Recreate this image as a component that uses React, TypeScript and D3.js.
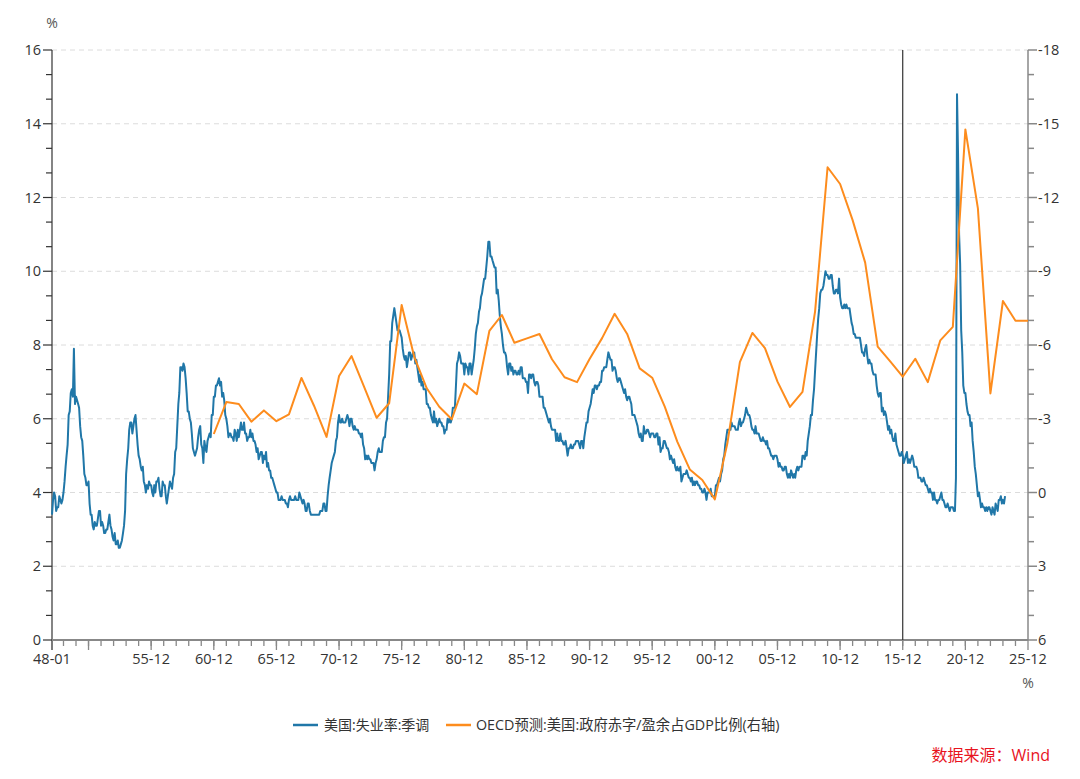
import React, { useEffect } from "react";
import * as d3 from "d3";

// Monthly US unemployment rate (SA), from 1948-01
const unemploymentStartYear = 1948;
const unemploymentMonthly: number[] = [
  3.4, 3.8, 4.0, 3.9, 3.5, 3.6, 3.6, 3.9, 3.8, 3.7, 3.8, 4.0,
  4.3, 4.7, 5.0, 5.3, 6.1, 6.2, 6.7, 6.8, 6.6, 7.9, 6.4, 6.6,
  6.5, 6.4, 6.3, 5.8, 5.5, 5.4, 5.0, 4.5, 4.4, 4.2, 4.2, 4.3,
  3.7, 3.4, 3.4, 3.1, 3.0, 3.2, 3.1, 3.1, 3.3, 3.5, 3.5, 3.1,
  3.2, 3.1, 2.9, 2.9, 3.0, 3.0, 3.2, 3.4, 3.1, 3.0, 2.8, 2.7,
  2.9, 2.6, 2.6, 2.7, 2.5, 2.5, 2.6, 2.7, 2.9, 3.1, 3.5, 4.5,
  4.9, 5.2, 5.7, 5.9, 5.9, 5.6, 5.8, 6.0, 6.1, 5.7, 5.3, 5.0,
  4.9, 4.7, 4.6, 4.7, 4.3, 4.2, 4.0, 4.2, 4.1, 4.3, 4.2, 4.2,
  4.0, 3.9, 4.2, 4.0, 4.3, 4.3, 4.4, 4.1, 3.9, 3.9, 4.3, 4.2,
  4.2, 3.9, 3.7, 3.9, 4.1, 4.3, 4.2, 4.1, 4.4, 4.5, 5.1, 5.2,
  5.8, 6.4, 6.7, 7.4, 7.4, 7.3, 7.5, 7.4, 7.1, 6.7, 6.2, 6.2,
  6.0, 5.9, 5.6, 5.2, 5.1, 5.0, 5.1, 5.2, 5.5, 5.7, 5.8, 5.3,
  5.2, 4.8, 5.4, 5.2, 5.1, 5.4, 5.5, 5.6, 5.5, 6.1, 6.1, 6.6,
  6.6, 6.9, 6.9, 7.0, 7.1, 6.9, 7.0, 6.6, 6.7, 6.5, 6.1, 6.0,
  5.8, 5.5, 5.6, 5.6, 5.5, 5.5, 5.4, 5.7, 5.6, 5.4, 5.7, 5.5,
  5.7, 5.9, 5.7, 5.7, 5.9, 5.6, 5.6, 5.4, 5.5, 5.5, 5.7, 5.5,
  5.6, 5.4, 5.4, 5.3, 5.1, 5.2, 4.9, 5.0, 5.1, 5.1, 4.8, 5.0,
  4.9, 5.1, 4.7, 4.8, 4.6, 4.6, 4.4, 4.4, 4.3, 4.2, 4.1, 4.0,
  4.0, 3.8, 3.8, 3.8, 3.9, 3.8, 3.8, 3.8, 3.7, 3.7, 3.6, 3.8,
  3.9, 3.8, 3.8, 3.8, 3.8, 3.9, 3.8, 3.8, 3.8, 4.0, 3.9, 3.8,
  3.7, 3.8, 3.7, 3.5, 3.5, 3.7, 3.7, 3.5, 3.4, 3.4, 3.4, 3.4,
  3.4, 3.4, 3.4, 3.4, 3.4, 3.5, 3.5, 3.5, 3.7, 3.7, 3.5, 3.5,
  3.9, 4.2, 4.4, 4.6, 4.8, 4.9, 5.0, 5.1, 5.4, 5.5, 5.9, 6.1,
  5.9, 5.9, 6.0, 5.9, 5.9, 5.9, 6.0, 6.1, 6.0, 5.8, 6.0, 6.0,
  5.8, 5.7, 5.8, 5.7, 5.7, 5.7, 5.6, 5.6, 5.5, 5.6, 5.3, 5.2,
  4.9, 5.0, 4.9, 5.0, 4.9, 4.9, 4.8, 4.8, 4.8, 4.6, 4.8, 4.9,
  5.1, 5.2, 5.1, 5.1, 5.1, 5.4, 5.5, 5.5, 5.9, 6.0, 6.6, 7.2,
  8.1, 8.1, 8.6, 8.8, 9.0, 8.8, 8.6, 8.4, 8.4, 8.4, 8.3, 8.2,
  7.9, 7.7, 7.6, 7.7, 7.4, 7.6, 7.8, 7.8, 7.6, 7.7, 7.8, 7.8,
  7.5, 7.6, 7.4, 7.2, 7.0, 7.2, 6.9, 7.0, 6.8, 6.8, 6.8, 6.4,
  6.4, 6.3, 6.3, 6.1, 6.0, 5.9, 6.2, 5.9, 6.0, 5.8, 5.9, 6.0,
  5.9, 5.9, 5.8, 5.8, 5.6, 5.7, 5.7, 6.0, 5.9, 6.0, 5.9, 6.0,
  6.3, 6.3, 6.3, 6.9, 7.5, 7.6, 7.8, 7.7, 7.5, 7.5, 7.5, 7.2,
  7.5, 7.4, 7.4, 7.2, 7.5, 7.5, 7.2, 7.4, 7.6, 7.9, 8.3, 8.5,
  8.6, 8.9, 9.0, 9.3, 9.4, 9.6, 9.8, 9.8, 10.1, 10.4, 10.8, 10.8,
  10.4, 10.4, 10.3, 10.2, 10.1, 10.1, 9.4, 9.5, 9.2, 8.8, 8.5, 8.3,
  8.0, 7.8, 7.8, 7.7, 7.4, 7.2, 7.5, 7.5, 7.3, 7.4, 7.2, 7.3,
  7.3, 7.2, 7.2, 7.3, 7.2, 7.4, 7.4, 7.1, 7.1, 7.1, 7.0, 7.0,
  6.7, 7.2, 7.2, 7.1, 7.2, 7.2, 7.0, 6.9, 7.0, 7.0, 6.9, 6.6,
  6.6, 6.6, 6.6, 6.3, 6.3, 6.2, 6.1, 6.0, 5.9, 6.0, 5.8, 5.7,
  5.7, 5.7, 5.7, 5.4, 5.6, 5.4, 5.4, 5.6, 5.4, 5.4, 5.3, 5.3,
  5.4, 5.2, 5.0, 5.2, 5.2, 5.3, 5.2, 5.2, 5.3, 5.3, 5.4, 5.4,
  5.4, 5.3, 5.2, 5.4, 5.4, 5.2, 5.5, 5.7, 5.9, 5.9, 6.2, 6.3,
  6.4, 6.6, 6.8, 6.7, 6.9, 6.9, 6.8, 6.9, 6.9, 7.0, 7.0, 7.3,
  7.3, 7.4, 7.4, 7.4, 7.6, 7.8, 7.7, 7.6, 7.6, 7.3, 7.4, 7.4,
  7.3, 7.1, 7.0, 7.1, 7.1, 7.0, 6.9, 6.8, 6.7, 6.8, 6.6, 6.5,
  6.6, 6.6, 6.5, 6.4, 6.1, 6.1, 6.1, 6.0, 5.9, 5.8, 5.6, 5.5,
  5.6, 5.4, 5.4, 5.8, 5.6, 5.6, 5.7, 5.7, 5.6, 5.5, 5.6, 5.6,
  5.6, 5.5, 5.5, 5.6, 5.6, 5.3, 5.5, 5.1, 5.2, 5.2, 5.4, 5.4,
  5.3, 5.2, 5.2, 5.1, 4.9, 5.0, 4.9, 4.8, 4.9, 4.7, 4.6, 4.7,
  4.6, 4.6, 4.7, 4.3, 4.4, 4.5, 4.5, 4.5, 4.6, 4.5, 4.4, 4.4,
  4.3, 4.4, 4.2, 4.3, 4.2, 4.3, 4.3, 4.2, 4.2, 4.1, 4.1, 4.0,
  4.0, 4.1, 4.0, 3.8, 4.0, 4.0, 4.0, 4.1, 3.9, 3.9, 3.9, 3.9,
  4.2, 4.2, 4.3, 4.4, 4.3, 4.5, 4.6, 4.9, 5.0, 5.3, 5.5, 5.7,
  5.7, 5.7, 5.7, 5.9, 5.8, 5.8, 5.8, 5.7, 5.7, 5.7, 5.9, 6.0,
  5.8, 5.9, 5.9, 6.0, 6.1, 6.3, 6.2, 6.1, 6.1, 6.0, 5.8, 5.7,
  5.7, 5.6, 5.8, 5.6, 5.6, 5.6, 5.5, 5.4, 5.4, 5.5, 5.4, 5.4,
  5.3, 5.4, 5.2, 5.2, 5.1, 5.0, 5.0, 4.9, 5.0, 5.0, 5.0, 4.9,
  4.7, 4.8, 4.7, 4.7, 4.6, 4.6, 4.7, 4.7, 4.5, 4.4, 4.5, 4.4,
  4.6, 4.5, 4.4, 4.5, 4.4, 4.6, 4.7, 4.6, 4.7, 4.7, 4.7, 5.0,
  5.0, 4.9, 5.1, 5.0, 5.4, 5.6, 5.8, 6.1, 6.1, 6.5, 6.8, 7.3,
  7.8, 8.3, 8.7, 9.0, 9.4, 9.5, 9.5, 9.6, 9.8, 10.0, 9.9, 9.9,
  9.8, 9.8, 9.9, 9.9, 9.6, 9.4, 9.4, 9.5, 9.5, 9.4, 9.8, 9.3,
  9.1, 9.0, 9.0, 9.1, 9.0, 9.1, 9.0, 9.0, 9.0, 8.8, 8.6, 8.5,
  8.3, 8.3, 8.2, 8.2, 8.2, 8.2, 8.2, 8.0, 7.8, 7.8, 7.7, 7.9,
  8.0, 7.7, 7.5, 7.6, 7.5, 7.5, 7.3, 7.2, 7.2, 7.2, 6.9, 6.7,
  6.6, 6.7, 6.7, 6.2, 6.3, 6.1, 6.2, 6.1, 5.9, 5.7, 5.8, 5.6,
  5.7, 5.5, 5.4, 5.4, 5.6, 5.3, 5.2, 5.1, 5.0, 5.0, 5.1, 5.0,
  4.8, 4.9, 5.0, 5.1, 4.8, 4.9, 4.8, 4.9, 5.0, 4.9, 4.7, 4.7,
  4.7, 4.6, 4.4, 4.4, 4.4, 4.3, 4.3, 4.4, 4.3, 4.2, 4.2, 4.1,
  4.0, 4.1, 4.0, 4.0, 3.8, 4.0, 3.8, 3.8, 3.7, 3.8, 3.8, 3.9,
  4.0, 3.8, 3.8, 3.7, 3.6, 3.6, 3.7, 3.6, 3.5, 3.6, 3.6, 3.6,
  3.5, 3.5, 4.4, 14.8, 13.2, 11.0, 10.2, 8.4, 7.8, 6.9, 6.7, 6.7,
  6.4, 6.2, 6.1, 6.1, 5.8, 5.9, 5.4, 5.1, 4.7, 4.5, 4.2, 3.9,
  4.0, 3.8, 3.6, 3.7, 3.6, 3.6, 3.5, 3.6, 3.5, 3.6, 3.6, 3.5,
  3.4, 3.6, 3.5, 3.4, 3.7, 3.6, 3.5, 3.8, 3.8, 3.9, 3.7, 3.8,
  3.7, 3.9,
];

// OECD: US general government deficit/surplus (% of GDP), annual, plotted at December
const deficitYears: number[] = [
  1960, 1961, 1962, 1963, 1964, 1965, 1966, 1967, 1968, 1969,
  1970, 1971, 1972, 1973, 1974, 1975, 1976, 1977, 1978, 1979,
  1980, 1981, 1982, 1983, 1984, 1985, 1986, 1987, 1988, 1989,
  1990, 1991, 1992, 1993, 1994, 1995, 1996, 1997, 1998, 1999,
  2000, 2001, 2002, 2003, 2004, 2005, 2006, 2007, 2008, 2009,
  2010, 2011, 2012, 2013, 2014, 2015, 2016, 2017, 2018, 2019,
  2020, 2021, 2022, 2023, 2024, 2025,
];
const deficitValues: number[] = [
  -2.38, -3.68, -3.6, -2.88, -3.34, -2.9, -3.18, -4.66, -3.53, -2.26,
  -4.74, -5.55, -4.3, -3.04, -3.63, -7.63, -5.52, -4.24, -3.49, -2.98,
  -4.43, -4.0, -6.57, -7.22, -6.09, -6.27, -6.45, -5.42, -4.69, -4.49,
  -5.43, -6.28, -7.27, -6.45, -5.05, -4.67, -3.49, -2.07, -0.94, -0.51,
  0.28, -2.0, -5.3, -6.49, -5.87, -4.51, -3.48, -4.09, -7.36, -13.23,
  -12.55, -11.08, -9.35, -5.93, -5.33, -4.71, -5.44, -4.49, -6.19, -6.74,
  -14.77, -11.56, -4.03, -7.79, -6.99, -6.99,
];

const leftTicks: number[] = [0, 2, 4, 6, 8, 10, 12, 14, 16];
const rightTicks: number[] = [-18, -15, -12, -9, -6, -3, 0, 3, 6];
const xLabelYears: number[] = [1955, 1960, 1965, 1970, 1975, 1980, 1985, 1990, 1995, 2000, 2005, 2010, 2015, 2020, 2025];
const markerYear = 2015;

const seriesNames = ["美国:失业率:季调", "OECD预测:美国:政府赤字/盈余占GDP比例(右轴)"];
const sourceText = "数据来源：Wind";

const W = 1080;
const H = 779;
const M = { left: 52, right: 1028, top: 50, bottom: 640 };
const BLUE = "#2077a8";
const ORANGE = "#fd8c1d";
const FONT = "'Open Sans','Noto Sans CJK SC','Noto Sans',sans-serif";

export default function App() {
  useEffect(() => {
    document.body.style.margin = "0";
  }, []);

  const x = d3
    .scaleTime()
    .domain([new Date(1948, 0, 1), new Date(2025, 11, 1)])
    .range([M.left, M.right]);
  const yL = d3.scaleLinear().domain([0, 16]).range([M.bottom, M.top]);
  const yR = d3.scaleLinear().domain([6, -18]).range([M.bottom, M.top]);

  const blueData = unemploymentMonthly.map((v, i) => ({
    d: new Date(unemploymentStartYear, i, 1),
    v,
  }));
  const orangeData = deficitYears.map((yr, i) => ({
    d: new Date(yr, 11, 1),
    v: deficitValues[i],
  }));

  const blueLine = d3
    .line<{ d: Date; v: number }>()
    .x((p) => x(p.d))
    .y((p) => yL(p.v))(blueData) as string;
  const orangeLine = d3
    .line<{ d: Date; v: number }>()
    .x((p) => x(p.d))
    .y((p) => yR(p.v))(orangeData) as string;

  const minorRight = d3.range(-18, 6.01, 1).filter((v) => !rightTicks.includes(v));

  const minorYears = d3.range(1948, 2025);
  const majorYears = [1950, ...xLabelYears];

  return (
    <svg width={W} height={H} style={{ display: "block", background: "#fff" }} fontFamily={FONT}>
      {leftTicks
        .filter((t) => t !== 0)
        .map((t) => (
          <line
            key={"g" + t}
            x1={M.left}
            x2={M.right}
            y1={yL(t)}
            y2={yL(t)}
            stroke="#dcdcdc"
            strokeDasharray="5,4"
            strokeWidth={1}
          />
        ))}

      {/* left axis */}
      <line x1={M.left} x2={M.left} y1={M.top} y2={M.bottom} stroke="#333" strokeWidth={1.2} />
      {leftTicks.map((t) => (
        <g key={"l" + t}>
          <line x1={M.left - 9} x2={M.left} y1={yL(t)} y2={yL(t)} stroke="#333" strokeWidth={1.2} />
          <text x={M.left - 11} y={yL(t)} dy="0.35em" textAnchor="end" fontSize={14.5} fill="#333">
            {t}
          </text>
        </g>
      ))}
      {minorRight.map((v) => (
        <line
          key={"lm" + v}
          x1={M.left - 6}
          x2={M.left}
          y1={yR(v)}
          y2={yR(v)}
          stroke="#333"
          strokeWidth={1.2}
        />
      ))}
      <text x={M.left} y={28} textAnchor="middle" fontSize={14} fill="#555">
        %
      </text>

      {/* right axis */}
      <line x1={M.right} x2={M.right} y1={M.top} y2={M.bottom} stroke="#888" strokeWidth={1.5} />
      {rightTicks.map((t) => (
        <g key={"r" + t}>
          <line x1={M.right} x2={M.right + 9} y1={yR(t)} y2={yR(t)} stroke="#888" strokeWidth={1.5} />
          <text x={M.right + 10} y={yR(t)} dy="0.35em" textAnchor="start" fontSize={14.5} fill="#333">
            {t}
          </text>
        </g>
      ))}
      {minorRight.map((v) => (
        <line
          key={"rm" + v}
          x1={M.right}
          x2={M.right + 6}
          y1={yR(v)}
          y2={yR(v)}
          stroke="#888"
          strokeWidth={1.5}
        />
      ))}
      <text x={M.right} y={688} textAnchor="middle" fontSize={14} fill="#555">
        %
      </text>

      {/* x axis */}
      {minorYears.map((yr) => (
        <line
          key={"xm" + yr}
          x1={x(new Date(yr, 11, 1))}
          x2={x(new Date(yr, 11, 1))}
          y1={M.bottom}
          y2={M.bottom + 6}
          stroke="#888"
          strokeWidth={1.3}
        />
      ))}
      {majorYears.map((yr) => (
        <line
          key={"xM" + yr}
          x1={x(new Date(yr, 11, 1))}
          x2={x(new Date(yr, 11, 1))}
          y1={M.bottom}
          y2={M.bottom + 10}
          stroke="#888"
          strokeWidth={1.3}
        />
      ))}
      <line x1={M.left} x2={M.left} y1={M.bottom} y2={M.bottom + 10} stroke="#333" strokeWidth={1.3} />
      <text x={M.left} y={664} textAnchor="middle" fontSize={14.5} fill="#333">
        48-01
      </text>
      {xLabelYears.map((yr) => (
        <text
          key={"xl" + yr}
          x={x(new Date(yr, 11, 1))}
          y={664}
          textAnchor="middle"
          fontSize={14.5}
          fill="#333"
        >
          {String(yr % 100).padStart(2, "0") + "-12"}
        </text>
      ))}
      <line x1={M.left} x2={M.right} y1={M.bottom} y2={M.bottom} stroke="#888" strokeWidth={1.8} />

      {/* marker line */}
      <line
        x1={x(new Date(markerYear, 11, 1))}
        x2={x(new Date(markerYear, 11, 1))}
        y1={M.top}
        y2={M.bottom}
        stroke="#333"
        strokeWidth={1.2}
      />

      {/* series */}
      <path d={blueLine} fill="none" stroke={BLUE} strokeWidth={2} strokeLinejoin="round" />
      <path d={orangeLine} fill="none" stroke={ORANGE} strokeWidth={2} strokeLinejoin="round" />

      {/* legend */}
      <line x1={293} x2={318} y1={725} y2={725} stroke={BLUE} strokeWidth={2.5} />
      <text x={324} y={725} dy="0.35em" fontSize={14} fill="#333">
        {seriesNames[0]}
      </text>
      <line x1={446} x2={471} y1={725} y2={725} stroke={ORANGE} strokeWidth={2.5} />
      <text x={476} y={725} dy="0.35em" fontSize={14.3} fill="#333">
        {seriesNames[1]}
      </text>

      {/* source */}
      <text x={1050} y={761} textAnchor="end" fontSize={16} fill="#e8141e">
        {sourceText}
      </text>
    </svg>
  );
}
